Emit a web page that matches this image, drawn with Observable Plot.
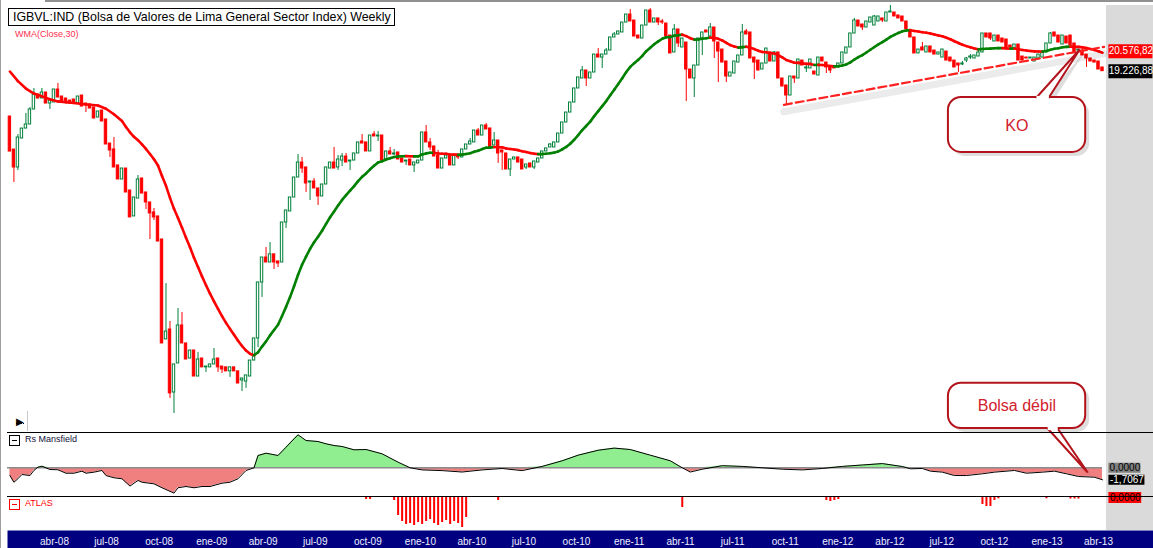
<!DOCTYPE html>
<html><head><meta charset="utf-8">
<script src="https://cdn.jsdelivr.net/npm/d3@7"></script>
<script src="https://cdn.jsdelivr.net/npm/@observablehq/plot@0.6"></script>
<style>
html,body{margin:0;padding:0;background:#fff;}
#chart{position:relative;width:1153px;height:548px;overflow:hidden;font-family:"Liberation Sans",Arial,sans-serif;background:#fff;}
.abs{position:absolute;}
.icon{position:absolute;width:9px;height:9px;border:1px solid #000;}
.icon::after{content:"";position:absolute;left:2px;top:4px;width:5px;height:1px;background:currentColor;}
</style></head><body><div id="chart"></div>
<script>
// ---------- DATA (weekly candles from the week of 14 Jan 2008) : [open, close, high, low] (null = no wick beyond body)
const candles2008 = [
[16480,14630,null,null],[14730,13860,null,13170],[13860,15345,15500,13720],[15295,15820,null,null],[15820,16040,16650,null],
[16040,16880,16995,null],[16880,17760,18130,null],[17760,17520,null,null],[17520,17880,18130,null],[17880,17225,null,null],
[17225,17400,null,16880],[17285,18065,null,null],[18065,17580,18440,null],[17640,17345,null,null],[17520,17285,null,null],
[17400,17225,null,null],[17460,17225,null,null],[17225,17640,null,null],[17700,17050,null,null],[17225,17110,null,16705],
[17165,16935,null,null],[16995,16370,null,null],[16425,16765,null,null],[16820,16205,null,null],[16315,14985,null,null],
[15035,14685,null,14340],[14735,13860,15345,null],[13955,13305,null,null],[13305,13810,null,null],[13810,12730,null,null],
[12815,11695,null,null],[11735,12515,null,null],[12470,13305,13485,null],[13350,12685,null,null],[12730,12305,null,12015],
[12305,11855,null,10850],[11895,11695,12055,11575],[11735,10775,null,null],[10850,7620,null,null],[7725,7935,9340,null],
[7990,6430,8210,6320],[6450,7095,null,6005],[7120,8100,8580,null],[8100,7620,8465,null],[7620,7215,null,null],
[7240,7440,null,null],[7440,6810,null,null],[6810,7215,7390,null],[7240,7025,null,null],[7025,7045,null,6905],
[7025,7095,null,null]];
const candles2009 = [
[7095,7215,7490,null],[7240,7025,null,6905],[7045,6975,null,6880],[7025,6930,null,null],[6930,7025,null,6790],
[7025,6930,null,null],[6930,6650,null,null],[6720,6765,null,6470],[6695,6835,null,6540],[6810,7190,null,null],
[7190,7750,null,null],[7750,9375,null,7515],[9375,10205,null,8910],[10205,10035,10560,null],[10035,10315,10740,null],
[10315,10035,null,9800],[10070,10000,null,9865],[10035,11495,null,null],[11495,11975,null,11265],[11935,12515,null,null],
[12515,13395,null,null],[13395,14095,14485,null],[14095,13810,14340,13580],[13860,13125,null,12730],[13170,13215,null,12390],
[13215,12905,13350,null],[12905,12560,null,12180],[12560,13080,null,null],[13080,13860,null,null],[13810,14095,null,null],
[14095,13810,14835,null],[13860,14240,14435,13720],[14190,14385,14535,13905],[14385,14095,14535,null],[14145,14190,null,13720],
[14190,14535,null,null],[14535,15090,null,null],[15140,15035,15505,null],[15090,14635,null,null],[14635,15450,null,null],
[15505,15400,15660,null],[15400,15450,15660,15140],[15450,14190,null,null],[14240,14635,null,null],[14635,14485,14835,null],
[14485,14535,14735,14435],[14585,14240,null,null],[14290,14095,null,null],[14145,14190,null,13955],[14240,13955,null,null],
[13955,14095,null,13625],[14050,14190,null,null]];
const candles2010 = [
[14190,15610,null,null],[15610,15090,15985,null],[15090,14835,15295,14685],[14885,14385,null,null],[14435,13810,14685,null],
[13810,14290,null,null],[14290,14435,14535,null],[14435,13955,null,null],[13955,14435,null,null],[14485,14340,null,14240],
[14340,14735,null,null],[14735,14985,null,null],[14985,15140,15295,null],[15090,15715,null,null],[15715,15450,15825,null],
[15450,15985,null,null],[15985,15770,16095,null],[15825,14785,null,null],[14935,15190,15610,null],[15190,14535,null,14050],
[14685,14585,null,13720],[14535,13765,null,null],[13765,14240,null,13440],[14240,14340,null,null],[14340,14095,null,null],
[14240,13765,null,null],[13860,14000,null,13765],[14050,13860,null,null],[13860,14145,null,13765],[14095,14290,null,null],
[14290,14635,null,null],[14635,14785,null,null],[14835,14985,15035,null],[14835,15090,null,null],[15090,15555,null,null],
[15555,16150,null,null],[16150,16705,null,null],[16705,17285,null,null],[17285,18130,null,null],[18130,18820,null,null],
[18755,19270,19535,null],[19270,18755,null,18250],[18755,19140,null,null],[19140,20345,null,null],[20345,20140,20765,null],
[20140,20345,null,19405],[20345,20625,20765,null],[20625,21560,null,null],[21560,21780,21930,null],[21780,22005,null,null],
[21930,22685,null,null],[22685,23310,null,null]];
const candles2011 = [
[23310,22765,23710,null],[22840,21630,null,null],[21705,21485,null,null],[21485,22455,null,null],[22455,23630,null,null],
[23630,22685,23790,null],[22685,23000,null,null],[23000,22685,null,22455],[22765,22685,22920,22535],[22610,21630,null,null],
[21705,20420,null,null],[20490,22155,22535,null],[22155,21125,null,20840],[20840,21485,null,null],[21195,19335,null,17345],
[19335,18755,null,null],[18755,19600,null,17580],[19600,21485,null,null],[21485,21930,null,20280],[22080,21930,null,null],
[21630,22305,22610,null],[22305,21270,null,20075],[21195,20555,null,18500],[20695,19800,null,null],[19870,18880,null,18500],
[18880,19140,null,null],[19075,19870,null,null],[19800,20280,null,null],[20280,21930,22535,null],[22005,21780,22155,null],
[21930,20075,null,null],[20140,19800,null,18690],[19935,19270,null,null],[19335,19735,null,null],[19735,20765,null,null],
[20490,19870,null,null],[19870,20490,20555,null],[20490,18755,null,null],[18755,18250,null,null],[18315,17700,null,17110],
[17700,18880,null,null],[18880,18755,null,18440],[18755,20005,null,null],[19935,19600,null,null],[19405,19470,19600,19140],
[19405,20005,null,null],[19205,19010,null,null],[18945,20140,null,null],[20140,19870,null,null],[19800,19470,null,19075],
[19535,19270,null,19075],[19470,19405,null,null]];
const candles2012 = [
[19470,19735,null,null],[19735,20490,null,null],[20420,20840,null,null],[20840,21855,null,null],[21855,22840,23000,null],
[22840,22380,null,null],[22535,22305,null,22080],[22305,22765,null,null],[22685,23075,null,null],[22455,23155,23235,null],
[22765,23155,null,null],[23000,22840,null,22685],[22765,23470,null,null],[23470,23550,24035,null],[23470,23155,null,null],
[23235,23000,null,null],[23155,22765,null,null],[22765,22155,null,null],[22080,21560,null,null],[21560,20420,null,null],
[20420,20695,null,null],[20840,20625,21195,null],[20490,20910,null,null],[20910,20490,null,null],[20625,20345,null,null],
[20345,20490,null,null],[20140,20695,null,null],[20555,19935,null,null],[20140,19870,null,null],[19935,19470,null,null],
[19735,19600,null,19140],[19670,19735,19870,19600],[19935,20075,20140,19800],[20140,20210,20345,20005],[20075,20280,null,null],
[20210,20490,20625,null],[20490,21855,null,null],[21855,21560,null,null],[21855,21485,null,21340],[21270,21705,null,null],
[21705,21270,null,null],[21485,21195,null,null],[21415,20765,null,null],[20980,20840,null,null],[20765,21050,null,null],
[21050,19935,null,null],[20210,19935,null,null],[20140,20075,null,null],[20075,20140,null,null],[19870,20140,null,null],
[20075,20345,null,null],[20140,20490,null,null],[20490,21125,null,null]];
const candles2013 = [
[21125,21855,21930,null],[21930,21630,null,null],[21705,21195,null,null],[21050,21705,null,null],[21630,21125,null,null],
[21705,20980,null,null],[21125,20490,null,null],[20625,20695,null,null],[20625,20280,20695,null],[20345,20075,null,19470],
[20075,19870,null,null],[19935,19800,null,null],[19870,19335,null,null],[19470,19226.88,null,null]];

// WMA(Close,30) before a full 30-week window exists
const wmaEarlyWeeks  = [0,2,4,6,8,10,12,14,16,18,20,22,24,26,28];
const wmaEarlyValues = [19205,18585,18125,17820,17650,17475,17350,17295,17255,17200,17155,17105,16920,16610,16230];
const wmaLast = 20576.82;

// Rs Mansfield
const rsWeeks  = [0,1,2,3,5,6,7,8,10,12,14,16,18,19,21,23,24,26,28,30,32,33,36,38,41,42,44,46,48,50,53,55,57,59,61,62,64,67,69,71,72,74,77,79,81,83,86,89,93,97,100,103,108,113,118,123,128,133,138,142,147,151,155,160,165,168,170,173,178,183,188,193,198,203,208,213,218,223,225,228,230,233,236,239,243,246,251,254,258,261,264,267,271,273];
const rsValues = [-1.1,-2.05,-1.56,-0.95,-1.1,-0.38,0.09,0.23,-0.24,-0.28,-0.77,-0.77,-0.48,-0.77,-0.62,-0.38,-1.1,-1.42,-1.56,-2.6,-1.8,-2.05,-2.28,-2.84,-3.6,-2.84,-2.66,-2.84,-2.66,-2.66,-2.19,-2.05,-1.56,-0.38,0,1.75,2.08,1.75,2.93,4.12,4.69,3.88,3.74,3.41,3.17,3.03,2.56,2.6,1.99,0.8,0,-0.3,-0.4,-0.6,-0.3,-0.1,-0.4,0.2,1.0,1.8,2.5,2.8,2.6,1.8,1.0,0,-0.6,-0.2,0.3,0.2,0,-0.2,-0.3,-0.1,0.2,0.4,0.6,0.18,-0.14,-0.1,-0.48,-0.62,-1.1,-1.1,-0.85,-0.62,-0.38,-0.77,-0.62,-0.48,-0.85,-1.24,-1.34,-1.7067];

// ATLAS
const atlasWeeks  = [89,90,96,97,98,99,100,101,102,103,104,105,106,107,108,109,110,111,112,113,114,122,168,204,205,206,207,243,244,245,246,247,259,265,266,267];
const atlasValues = [-2,-2,-3,-18,-24,-27,-26,-28,-25,-27,-24,-22,-26,-28,-25,-23,-27,-24,-26,-30,-20,-3,-10,-3,-4,-3,-2,-7,-9,-9,-3,-1.3,-1.3,-1.5,-1.5,-1.5];

// trend line and annotations (week index, value)
const trendWeeks = [193.4, 273.4];
const trendPrices = [17150, 20886];
const koBoxWeeks = [234.5, 268.8], koBoxPrices = [14585, 17580];
const koPointerWeeks = [256.5, 267.3, 259.6], koPointerPrices = [17580, 20696, 17580];
const koTextAt = [251.6, 15985];
const weakBoxWeeks = [234.5, 268.8], weakBoxValues = [5.59, 12.03];
const weakPointerWeeks = [259.3, 269.3, 261.8], weakPointerValues = [5.59, -0.67, 5.59];
const weakTextAt = [251.6, 8.75];

const tickLabels = ["abr-08","jul-08","oct-08","ene-09","abr-09","jul-09","oct-09","ene-10","abr-10","jul-10","oct-10","ene-11","abr-11","jul-11","oct-11","ene-12","abr-12","jul-12","oct-12","ene-13","abr-13"];

// ---------- BUILD
const DAY = 864e5;
const WEEK0 = Date.UTC(2008, 0, 14);
const weekDate = k => new Date(WEEK0 + k * 7 * DAY);
const xScale = () => ({type: "utc", domain: [new Date(Date.UTC(2008,3,1)), new Date(Date.UTC(2013,3,1))], range: [54, 1098], axis: null});
const RED = "#ff0000", CGREEN = "#00803a", WGREEN = "#008000";
const CALL = "#b3141b", CALLTXT = "#d2202c";
const HALF = 2.1 * DAY;
const fmtEs = (v, d) => d3.format(`,.${d}f`)(v).replace("−","-").replace(/,/g,"_").replace(".",",").replace(/_/g,".");
const baseStyle = {background: "transparent", overflow: "visible", fontFamily: "Liberation Sans, Arial, sans-serif", fontSize: "10px"};

const rows = [].concat(candles2008, candles2009, candles2010, candles2011, candles2012, candles2013);
const candles = rows.map(([o,c,h,l], i) => ({date: weekDate(i), open: o, close: c,
  high: h ?? Math.max(o,c), low: l ?? Math.min(o,c), up: c >= o}));

const closes = candles.map(d => d.close);
const wma = wmaEarlyWeeks.map((k,i) => ({k, v: wmaEarlyValues[i]}));
for (let k = 29; k < closes.length; k++) {
  let s = 0; for (let i = 0; i < 30; i++) s += (i+1) * closes[k-29+i];
  wma.push({k, v: s / 465});
}
const wmaLinks = wma.slice(1).map((p, i) => ({x1: weekDate(wma[i].k), y1: wma[i].v, x2: weekDate(p.k), y2: p.v,
  color: p.v > wma[i].v ? WGREEN : RED}));

const trend = trendWeeks.map((k,i) => ({date: weekDate(k), v: trendPrices[i]}));

function callout(boxW, boxV, ptrW, ptrV, textAt, label) {
  const box = [{x1: weekDate(boxW[0]), x2: weekDate(boxW[1]), y1: boxV[0], y2: boxV[1]}];
  const ptr = ptrW.map((k,i) => ({date: weekDate(k), v: ptrV[i]}));
  const seam = [{x1: ptr[0].date, y1: ptr[0].v, x2: ptr[2].date, y2: ptr[2].v}];
  return [
    Plot.rect(box, {x1:"x1", x2:"x2", y1:"y1", y2:"y2", rx: 13, fill: "#000", fillOpacity: 0.13, dx: 4, dy: 4}),
    Plot.line(ptr, {x:"date", y:"v", fill: "#000", fillOpacity: 0.13, stroke: "none", dx: 4, dy: 4}),
    Plot.rect(box, {x1:"x1", x2:"x2", y1:"y1", y2:"y2", rx: 13, fill: "white", stroke: CALL, strokeWidth: 2}),
    Plot.line(ptr, {x:"date", y:"v", fill: "white", stroke: CALL, strokeWidth: 2, strokeLinejoin: "miter"}),
    Plot.link(seam, {x1:"x1", y1:"y1", x2:"x2", y2:"y2", stroke: "white", strokeWidth: 3.2}),
    Plot.text([label], {x: () => weekDate(textAt[0]), y: () => textAt[1], text: d => d, fill: CALLTXT, fontSize: 16})
  ];
}

function labelBox(value, k1, k2, bg, fg, h, digits) {
  return [
    Plot.ruleY([value], {x1: () => weekDate(k1), x2: () => weekDate(k2), stroke: bg, strokeWidth: h}),
    Plot.text([value], {x: () => weekDate((k1+k2)/2), y: d => d, text: d => fmtEs(d, digits), fill: fg, fontSize: 10})
  ];
}

const chart = document.getElementById("chart");
function place(el, top, z) { const w = document.createElement("div"); w.className = "abs"; w.style.left = "0px"; w.style.top = top + "px"; w.style.zIndex = z; w.append(el); chart.append(w); return w; }
function html(str, css) { const d = document.createElement("div"); d.className = "abs"; d.style.cssText = css; d.innerHTML = str; chart.append(d); return d; }

// background decoration
html("", "left:1106px;top:5px;width:47px;height:525px;background:#dadada;z-index:0");
html("", "left:0;top:0;width:1px;height:548px;background:#a0a0a0;z-index:0");
html("", "left:45px;top:0;width:1108px;height:2px;background:#909090;z-index:0");

// price panel
const pricePlot = Plot.plot({
  width: 1153, height: 432, margin: 0, style: baseStyle,
  x: xScale(), y: {type: "log", domain: [6067, 23631], range: [410, 10], axis: null},
  marks: [
    Plot.ruleX(candles, {x: "date", y1: "low", y2: "high", stroke: d => d.up ? CGREEN : RED, strokeWidth: 1}),
    Plot.rect(candles, {x1: d => new Date(+d.date - HALF), x2: d => new Date(+d.date + HALF), y1: "open", y2: "close",
      fill: d => d.up ? "white" : RED, stroke: d => d.up ? CGREEN : RED, strokeWidth: 1}),
    Plot.link(wmaLinks, {x1: "x1", y1: "y1", x2: "x2", y2: "y2", stroke: "color", strokeWidth: 2.6, strokeLinecap: "round"}),
    Plot.line(trend, {x: "date", y: "v", stroke: "#000", strokeOpacity: 0.08, strokeWidth: 7, dy: 7}),
    Plot.line(trend, {x: "date", y: "v", stroke: "#ff2020", strokeWidth: 2.2, strokeDasharray: "8,4"}),
    ...callout(koBoxWeeks, koBoxPrices, koPointerWeeks, koPointerPrices, koTextAt, "KO"),
    ...labelBox(wmaLast, 274.6, 285.6, RED, "white", 14, 2),
    ...labelBox(closes[closes.length-1], 274.6, 285.6, "#000", "white", 14, 2)
  ]
});
place(pricePlot, 0, 1);

// Rs Mansfield panel
const rs = rsWeeks.map((k,i) => ({date: weekDate(k), v: rsValues[i]}));
const rsPlot = Plot.plot({
  width: 1153, height: 64, margin: 0, style: baseStyle,
  x: xScale(), y: {domain: [-4.08, 5.02], range: [64, 0], axis: null},
  marks: [
    Plot.areaY(rs, {x: "date", y1: 0, y2: d => Math.max(0, d.v), fill: "#90ee90"}),
    Plot.areaY(rs, {x: "date", y1: 0, y2: d => Math.min(0, d.v), fill: "#f08080"}),
    Plot.ruleY([0], {x1: () => weekDate(-0.6), x2: () => weekDate(273), stroke: "#8c8c8c", strokeWidth: 1.5}),
    Plot.line(rs, {x: "date", y: "v", stroke: "#000", strokeWidth: 1}),
    ...labelBox(0, 274.6, 282.6, "#808080", "#000", 10, 4),
    ...labelBox(rsValues[rsValues.length-1], 274.6, 283.6, "#000", "white", 10, 4),
    ...callout(weakBoxWeeks, weakBoxValues, weakPointerWeeks, weakPointerValues, weakTextAt, "Bolsa débil")
  ]
});
place(rsPlot, 432, 3);

// ATLAS panel
const atlas = atlasWeeks.map((k,i) => ({date: weekDate(k), v: atlasValues[i]}));
const atlasPlot = Plot.plot({
  width: 1153, height: 34, margin: 0, style: baseStyle,
  x: xScale(), y: {domain: [-33, 0], range: [34, 1], axis: null},
  marks: [
    Plot.ruleX(atlas, {x: "date", y1: 0, y2: "v", stroke: RED, strokeWidth: 2}),
    ...labelBox(0, 274.6, 282.8, RED, "#000", 11, 4)
  ]
});
place(atlasPlot, 496, 2);

// time axis band
const ticks = tickLabels.map((t,i) => ({date: new Date(Date.UTC(2008, 3 + 3*i, 1)), t}));
const axisPlot = Plot.plot({
  width: 1153, height: 18, marginLeft: 7, marginRight: 0, marginTop: 0, marginBottom: 0, style: baseStyle,
  x: xScale(),
  marks: [
    Plot.frame({fill: "#000080", stroke: "none"}),
    Plot.text(ticks, {x: "date", text: "t", frameAnchor: "top", dy: 7, fill: "#eef0ff", fontSize: 10})
  ]
});
place(axisPlot, 530, 2);

// separators (drawn on top)
html("", "left:7px;top:432px;width:1146px;height:1px;background:#000;z-index:5");
html("", "left:7px;top:496px;width:1146px;height:1px;background:#000;z-index:5");

// texts and small widgets
html("IGBVL:IND (Bolsa de Valores de Lima General Sector Index) Weekly",
  "left:8px;top:8px;width:381px;height:16px;border:1px solid #000;background:#fff;font-size:12.4px;line-height:16px;padding-left:4px;color:#000;white-space:nowrap;z-index:4");
html("WMA(Close,30)", "left:15px;top:29px;font-size:9px;color:#ff3050;z-index:4");
html("<div class='icon' style='left:0;top:0;color:#000'></div><span style='position:absolute;left:16px;top:-1px;white-space:nowrap'>Rs Mansfield</span>",
  "left:9px;top:435px;font-size:9px;color:#10103a;z-index:6");
html("<div class='icon' style='left:0;top:0;border-color:#ff0000;color:#ff0000'></div><span style='position:absolute;left:16px;top:-1px;white-space:nowrap'>ATLAS</span>",
  "left:9px;top:499px;font-size:9px;color:#ff0000;z-index:6");
html("<span style='font-size:10px;line-height:10px'>&#9654;</span>", "left:16px;top:411px;color:#000;z-index:4");
html("", "left:16px;top:423px;width:8px;height:0;border-top:1px dotted #000;z-index:4");
html("", "left:27px;top:411px;width:1px;height:20px;background:#c8c8c8;z-index:4");
</script></body></html>
